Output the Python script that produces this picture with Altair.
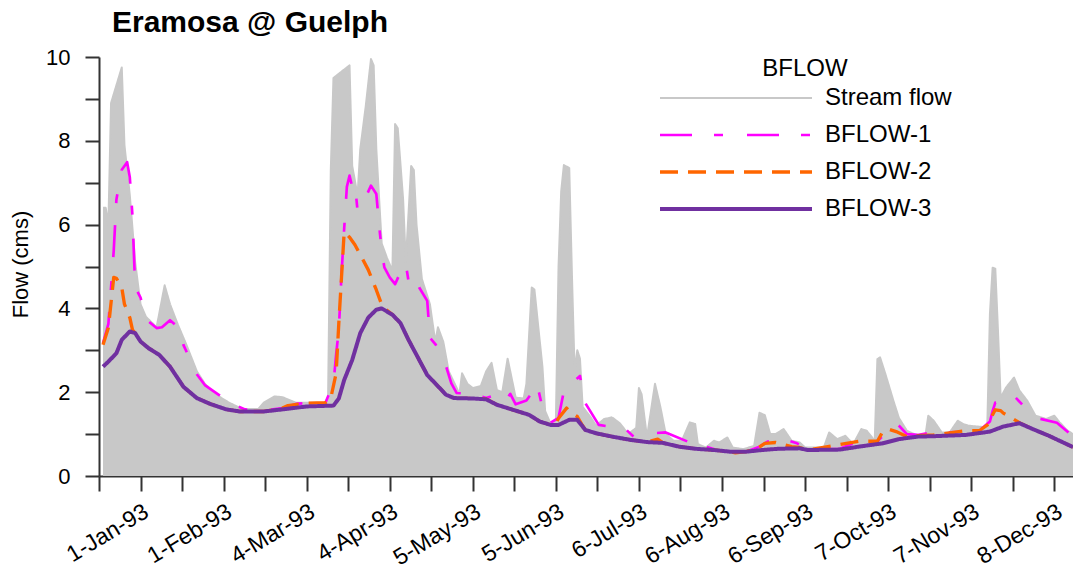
import altair as alt
import pandas as pd

# ---------------- data (day offsets from 1-Jan-1993, flow in cms) ----------------
sf_day = [-14,-13,-12,-11,-7,-6,-4,-2,0,2,6,9,11,14,17,21,24,28,33,38,44,46,50,53,58,68,69,70,71,72,75,78,79,81,82,84,86,87,88,90,92,94,95,96,98,99,101,102,103,105,108,110,111,113,115,118,119,120,122,124,127,129,131,133,135,137,140,143,144,146,147,150,151,153,155,156,157,158,160,161,162,163,164,165,168,170,173,176,179,182,185,186,187,189,192,194,196,199,202,205,207,208,211,214,216,219,221,225,229,231,233,235,237,240,243,246,248,255,257,260,263,266,269,271,274,275,276,278,281,283,286,290,293,294,296,299,302,305,307,309,316,317,318,319,320,321,323,326,328,331,334,338,341,343,346,348]
sf_val = [6.4,6.4,6.0,8.9,9.75,7.9,6.7,5.1,4.1,3.8,3.55,4.55,4.1,3.6,3.15,2.5,2.2,1.95,1.75,1.6,1.6,1.75,1.9,1.88,1.75,1.75,1.75,1.9,7.3,9.5,9.65,9.8,7.4,6.7,7.8,8.8,9.95,9.8,7.8,5.55,5.2,4.9,8.4,8.3,6.6,5.1,7.4,7.3,6.0,4.7,4.1,3.2,3.55,3.2,2.5,2.1,1.95,2.45,2.2,2.1,2.15,2.5,2.7,2.05,2.0,2.8,1.87,1.85,2.2,4.5,4.45,2.6,1.55,1.25,1.3,5.0,6.8,7.42,7.35,4.8,2.5,3.0,2.8,1.65,1.4,1.2,1.36,1.4,1.25,1.0,1.15,2.1,1.95,0.92,2.2,1.65,1.0,0.84,0.84,1.28,1.24,0.76,0.68,0.84,0.8,0.92,0.68,0.64,0.72,1.51,1.45,1.0,1.0,1.12,0.84,0.8,0.68,0.68,1.04,0.88,0.96,0.76,1.12,1.08,0.84,2.79,2.83,2.43,1.79,1.39,1.08,0.96,1.0,1.44,1.32,1.04,1.04,1.32,1.24,1.2,1.16,3.87,4.97,4.95,3.47,1.87,2.11,2.35,2.04,1.79,1.44,1.36,1.44,1.28,1.08,1.0]

b1_day = [-14,-12,-10,-9,-7,-5,-4,-3,-2,0,2,6,8,11,14,16,21,24,28,31,36,39,46,53,58,62,69,72,73,74,75,76,77,78,79,80,81,84,86,88,89,90,91,93,95,97,99,100,102,104,107,108,110,113,116,118,124,129,134,136,138,140,144,147,148,150,153,156,158,160,164,165,166,171,181,184,187,196,205,208,211,215,226,231,234,240,245,249,261,266,275,282,286,290,295,299,305,313,317,318,319,322,324,326,332,334,342,348]
b1_val = [3.17,3.63,5.38,6.6,7.31,7.49,7.13,6.2,4.5,4.26,3.74,3.53,3.55,3.72,3.55,3.13,2.43,2.17,1.99,1.86,1.67,1.59,1.56,1.62,1.72,1.74,1.75,2.2,2.9,3.5,4.8,5.9,6.9,7.17,6.9,6.97,6.33,6.65,6.93,6.73,6.01,5.38,4.98,4.74,4.58,4.86,5.06,4.66,4.82,4.5,4.18,3.3,3.15,2.83,2.21,1.98,1.96,1.86,1.96,1.79,1.96,1.71,1.8,2.07,2.19,1.63,1.27,1.39,2.03,2.15,2.39,2.03,1.74,1.22,1.12,0.94,1.0,1.04,0.8,0.84,0.7,0.62,0.58,0.7,0.82,0.88,0.78,0.64,0.65,0.78,0.83,1.27,1.0,0.98,1.04,1.04,1.05,1.08,1.3,1.55,1.75,1.79,1.83,1.91,1.51,1.39,1.27,0.95]

b2_day = [-14,-12,-10,-9,-7,-6,-4,-3,-2,0,3,7,11,16,21,26,32,37,46,53,55,62,69,71,73,74,75,76,78,80,82,85,88,90,91,94,97,100,104,107,110,114,117,124,129,133,139,145,149,153,155,156,159,161,163,165,166,170,176,183,189,193,195,201,207,214,220,222,226,230,233,237,243,246,249,258,268,275,277,279,282,286,290,296,308,313,317,318,319,321,322,325,328,333,339,348]
b2_val = [3.13,3.54,4.74,4.72,4.5,4.1,3.78,3.49,3.41,3.21,3.05,2.89,2.61,2.13,1.86,1.72,1.59,1.54,1.54,1.62,1.68,1.74,1.75,1.86,2.45,3.65,4.74,5.82,5.7,5.52,5.28,4.92,4.44,4.09,4.0,3.85,3.65,3.25,2.77,2.41,2.21,1.94,1.86,1.85,1.84,1.7,1.58,1.46,1.3,1.22,1.25,1.38,1.62,1.5,1.42,1.2,1.1,1.02,0.94,0.86,0.81,0.88,0.79,0.7,0.65,0.62,0.58,0.55,0.58,0.65,0.78,0.8,0.7,0.68,0.62,0.72,0.83,0.83,1.06,1.12,1.06,0.94,0.96,0.98,1.08,1.08,1.26,1.46,1.58,1.56,1.5,1.39,1.27,1.12,0.96,0.69]

b3_day = [-14,-12,-9,-7,-4,-2,0,3,7,11,16,21,26,32,37,46,53,62,72,74,76,79,82,85,88,90,94,97,100,104,107,110,114,117,124,129,133,139,145,149,153,156,160,163,166,170,176,183,189,195,201,207,214,220,226,232,238,246,249,261,268,277,283,290,296,308,317,322,328,333,339,348]
b3_val = [2.61,2.73,2.93,3.25,3.45,3.41,3.21,3.05,2.89,2.61,2.13,1.86,1.72,1.59,1.54,1.54,1.59,1.66,1.68,1.85,2.29,2.77,3.41,3.78,3.97,4.0,3.85,3.65,3.25,2.77,2.41,2.21,1.94,1.86,1.85,1.83,1.7,1.58,1.46,1.3,1.22,1.22,1.34,1.34,1.1,1.02,0.94,0.86,0.81,0.79,0.7,0.65,0.62,0.58,0.58,0.62,0.65,0.66,0.62,0.63,0.7,0.78,0.88,0.94,0.95,0.98,1.06,1.18,1.26,1.12,0.96,0.69]

series_names = ["Stream flow", "BFLOW-1", "BFLOW-2", "BFLOW-3"]
series_colors = ["#c8c8c8", "#ff00ff", "#ff6600", "#7030a0"]
series_dash = [[1, 0], [32, 22, 9, 24], [18, 10], [1, 0]]
series_width = [2, 4, 4, 4]

major_labels = ["1-Jan-93", "1-Feb-93", "4-Mar-93", "4-Apr-93", "5-May-93", "5-Jun-93",
                "6-Jul-93", "6-Aug-93", "6-Sep-93", "7-Oct-93", "7-Nov-93", "8-Dec-93"]

# ---------------- build table ----------------
BASE = pd.Timestamp("1993-01-01", tz="UTC")


def iso(ts):
    return ts.strftime("%Y-%m-%dT%H:%M:%SZ")


rows = []
for name, days, vals in [("Stream flow", sf_day, sf_val), ("BFLOW-1", b1_day, b1_val),
                         ("BFLOW-2", b2_day, b2_val), ("BFLOW-3", b3_day, b3_val)]:
    for d, v in zip(days, vals):
        rows.append({"series": name, "date": iso(BASE + pd.Timedelta(days=d)), "flow": v})
df = pd.DataFrame(rows)


def ms(ts):
    return int(ts.value // 1_000_000)


major_ts = [BASE + pd.Timedelta(days=31 * k) for k in range(len(major_labels))]
tick_vals = []
for t in major_ts:
    tick_vals.append(ms(t - pd.Timedelta(hours=15.5 * 24)))
    tick_vals.append(ms(t))
x_domain = [ms(BASE - pd.Timedelta(hours=15.5 * 24)), ms(BASE + pd.Timedelta(days=348))]

FONT = "Liberation Sans"

x_enc = alt.X("date:T", title=None,
              scale=alt.Scale(type="utc", domain=x_domain, nice=False),
              axis=alt.Axis(values=tick_vals,
                            labelExpr="utchours(datum.value) == 0 ? utcFormat(datum.value, '%-d-%b-%y') : ''",
                            labelAngle=329, labelAlign="right", labelBaseline="top",
                            labelOverlap=False, labelBound=False, labelFlush=False,
                            tickSize=15, tickWidth=2, tickColor="#333333",
                            domainColor="#333333", domainWidth=2,
                            labelPadding=9, labelFontSize=23, labelFont=FONT,
                            labelColor="#000000", grid=False))
y_enc = alt.Y("flow:Q", title="Flow (cms)",
              scale=alt.Scale(domain=[0, 10], nice=False, zero=True),
              axis=alt.Axis(values=list(range(0, 11)),
                            labelExpr="datum.value % 2 == 0 ? datum.label : ''",
                            tickSize=14, tickWidth=2, tickColor="#333333",
                            domainColor="#333333", domainWidth=2,
                            labelPadding=15, labelFontSize=22, labelFont=FONT,
                            labelColor="#000000", grid=False,
                            titleFontSize=22, titleFont=FONT, titleFontWeight="normal",
                            titleColor="#000000", titleAngle=270, titleAlign="center",
                            titleBaseline="alphabetic", titleX=-72, titleY=207))

legend = alt.Legend(title="BFLOW", orient="none", legendX=559, legendY=0,
                    titleFontSize=24, titleFont=FONT, titleFontWeight="normal",
                    titleColor="#000000", titleAnchor="middle", titleAlign="center",
                    titlePadding=5, padding=0,
                    symbolType="stroke", symbolSize=152 * 152, symbolStrokeWidth=4,
                    clipHeight=24, rowPadding=13,
                    labelFontSize=24, labelFont=FONT, labelColor="#000000", labelOffset=11)

color_enc = alt.Color("series:N", scale=alt.Scale(domain=series_names, range=series_colors),
                      legend=legend, sort=series_names)
dash_enc = alt.StrokeDash("series:N", scale=alt.Scale(domain=series_names, range=series_dash),
                          legend=legend, sort=series_names)
width_enc = alt.StrokeWidth("series:N", scale=alt.Scale(domain=series_names, range=series_width),
                            legend=legend, sort=series_names)

base = alt.Chart(df)

area = base.transform_filter(alt.datum.series == "Stream flow").mark_area(
    color="#c8c8c8", interpolate="linear").encode(x=x_enc, y=y_enc)

layers = [area]
for name in series_names:
    layers.append(
        base.transform_filter(alt.datum.series == name)
        .mark_line(interpolate="linear", strokeJoin="round")
        .encode(x=x_enc, y=y_enc, color=color_enc, strokeDash=dash_enc, strokeWidth=width_enc)
    )

chart = alt.layer(*layers).properties(
    width=974, height=419,
    title=alt.TitleParams("Eramosa @ Guelph", anchor="start", frame="group", fontSize=30,
                          font=FONT, fontWeight="bold", color="#000000", offset=22, dx=13,
                          dy=38, baseline="alphabetic"),
    autosize=alt.AutoSizeParams(type="none"),
    padding={"left": 99, "top": 57, "right": 0, "bottom": 95},
    background="#ffffff",
).configure_view(stroke=None)

chart.save("out.html", embed_options={"renderer": "svg", "actions": False})
